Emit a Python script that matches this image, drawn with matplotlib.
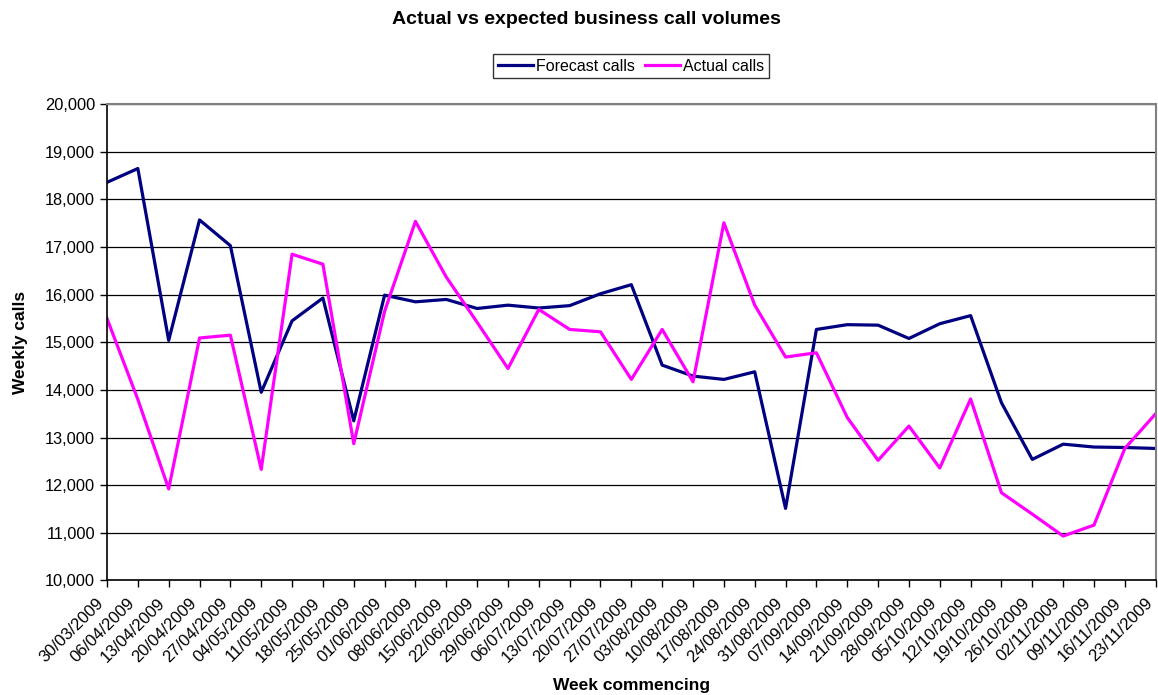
import numpy as np
import matplotlib
matplotlib.use('Agg')
import matplotlib.pyplot as plt
import matplotlib.transforms as mtransforms
from matplotlib.ticker import FuncFormatter, MultipleLocator

plt.rcParams['font.family'] = ['Liberation Sans', 'DejaVu Sans']

# week commencing dates
weeks = ['30/03/2009', '06/04/2009', '13/04/2009', '20/04/2009', '27/04/2009',
         '04/05/2009', '11/05/2009', '18/05/2009', '25/05/2009', '01/06/2009',
         '08/06/2009', '15/06/2009', '22/06/2009', '29/06/2009', '06/07/2009',
         '13/07/2009', '20/07/2009', '27/07/2009', '03/08/2009', '10/08/2009',
         '17/08/2009', '24/08/2009', '31/08/2009', '07/09/2009', '14/09/2009',
         '21/09/2009', '28/09/2009', '05/10/2009', '12/10/2009', '19/10/2009',
         '26/10/2009', '02/11/2009', '09/11/2009', '16/11/2009', '23/11/2009']

forecast_calls = [18360, 18650, 15040, 17570, 17030, 13950, 15450, 15930, 13350, 15990,
                  15850, 15900, 15710, 15780, 15720, 15770, 16020, 16210, 14520, 14290,
                  14220, 14380, 11510, 15270, 15370, 15360, 15080, 15390, 15560, 13730,
                  12540, 12860, 12800, 12790, 12770]

actual_calls = [15500, 13800, 11920, 15090, 15150, 12330, 16850, 16640, 12870, 15650,
                17540, 16370, 15420, 14450, 15690, 15270, 15220, 14220, 15270, 14170,
                17510, 15780, 14690, 14780, 13420, 12520, 13240, 12360, 13810, 11840,
                11390, 10930, 11160, 12770, 13500]

fig = plt.figure(figsize=(11.58, 6.95), dpi=100)
ax = fig.add_axes([0.0924, 0.165, 0.9056, 0.685])

x = np.arange(len(weeks))
ax.plot(x, forecast_calls, color='#000080', lw=2.3, label='Forecast calls')
ax.plot(x, actual_calls, color='#FF00FF', lw=2.3, label='Actual calls')

ax.set_xlim(0, len(weeks) - 1)
ax.set_ylim(10000, 20000)
ax.yaxis.set_major_locator(MultipleLocator(1000))
ax.yaxis.set_major_formatter(FuncFormatter(lambda v, p: '{:,.0f}'.format(v)))
ax.grid(axis='y', color='black', lw=0.9)
ax.set_axisbelow(True)

ax.set_xticks(x)
ax.set_xticklabels(weeks, rotation=45, ha='right', va='top', rotation_mode='anchor')
ax.tick_params(axis='y', labelsize=11.8, direction='out', length=5, width=1, color='black')
ax.tick_params(axis='x', labelsize=12, direction='out', length=5, width=1, color='black', pad=6)
# labels sit a little to the left of their tick
shift = mtransforms.ScaledTranslation(-11 / 100, 0, fig.dpi_scale_trans)
for lbl in ax.get_xticklabels():
    lbl.set_transform(lbl.get_transform() + shift)

for s in ['left', 'bottom']:
    ax.spines[s].set_color('black')
    ax.spines[s].set_linewidth(1.2)
for s in ['top', 'right']:
    ax.spines[s].set_color('#808080')
    ax.spines[s].set_linewidth(1.5)

ax.set_xlabel('Week commencing', fontsize=12.5, fontweight='bold', labelpad=9)
ax.set_ylabel('Weekly calls', fontsize=12.5, fontweight='bold', labelpad=12)

fig.text(0.506, 0.972, 'Actual vs expected business call volumes', ha='center', va='center',
         fontsize=14, fontweight='bold')

leg = fig.legend(loc='center', bbox_to_anchor=(0.545, 0.905), ncol=2, fontsize=11.5,
                 frameon=True, fancybox=False, edgecolor='black', handlelength=2.2,
                 handletextpad=0.2, columnspacing=0.6, borderpad=0.3)
leg.get_frame().set_linewidth(1.0)

fig.savefig('out.png', dpi=100)
